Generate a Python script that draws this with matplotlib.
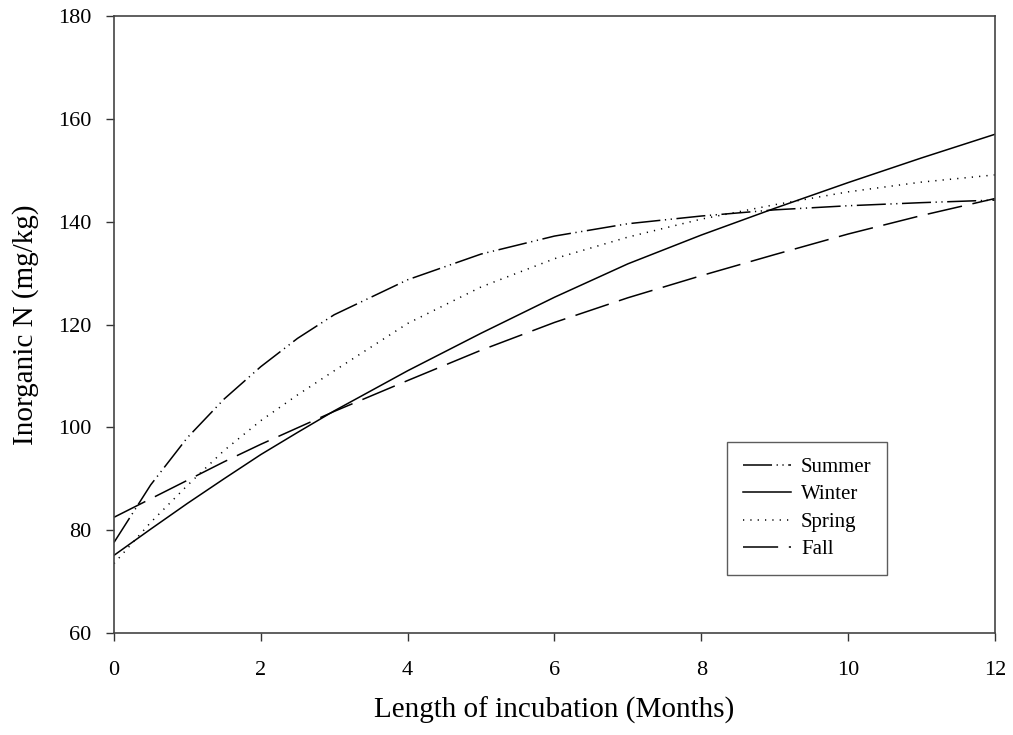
import numpy as np
import matplotlib
matplotlib.use('Agg')
import matplotlib.pyplot as plt

plt.rcParams['font.family'] = ['Liberation Serif', 'DejaVu Serif']

# months of incubation
months = [0, 0.5, 1, 1.5, 2, 2.5, 3, 4, 5, 6, 7, 8, 9, 10, 11, 12]

summer = [77.6, 88.8, 98.0, 105.5, 111.8, 117.3, 121.9, 128.7, 133.7, 137.2, 139.6, 141.1, 142.3, 143.1, 143.7, 144.2]
winter = [75.1, 80.2, 85.2, 90.0, 94.7, 99.0, 103.2, 111.0, 118.3, 125.3, 131.8, 137.4, 142.6, 147.6, 152.4, 157.0]
spring = [73.5, 81.5, 88.7, 95.5, 101.3, 106.3, 111.0, 120.2, 127.3, 132.8, 137.0, 140.5, 143.3, 145.8, 147.7, 149.1]
fall = [82.5, 86.1, 89.7, 93.3, 96.7, 99.9, 103.1, 109.1, 115.0, 120.4, 125.2, 129.5, 133.6, 137.6, 141.2, 144.5]

xticks = [0, 2, 4, 6, 8, 10, 12]
yticks = [60, 80, 100, 120, 140, 160, 180]

fig = plt.figure(figsize=(10.13, 7.35), dpi=100)
ax = fig.add_axes([0.1125, 0.1388, 0.8697, 0.8394])

lw = 1.1
ax.plot(months, summer, color='black', lw=lw, linestyle=(0, (19, 3, 0.8, 3, 0.8, 3)), label='Summer')
ax.plot(months, winter, color='black', lw=lw, linestyle='-', label='Winter')
ax.plot(months, spring, color='black', lw=lw, linestyle=(0, (0.8, 4)), label='Spring')
ax.plot(months, fall, color='black', lw=lw, linestyle=(0, (23, 7)), label='Fall')

ax.set_xlim(0, 12)
ax.set_ylim(60, 180)
ax.set_xticks(xticks)
ax.set_yticks(yticks)
ax.tick_params(direction='out', length=6, width=1, labelsize=16, color='#333333')
ax.tick_params(axis='x', pad=14)
ax.tick_params(axis='y', pad=10)
for s in ax.spines.values():
    s.set_linewidth(1.2)
    s.set_color('#444444')

ax.set_xlabel('Length of incubation (Months)', fontsize=21, labelpad=12)
ax.set_ylabel('Inorganic N (mg/kg)', fontsize=21, labelpad=14)

leg = ax.legend(loc='upper left', bbox_to_anchor=(0.696, 0.31), fontsize=15,
                frameon=True, fancybox=False, shadow=False, handlelength=2.3,
                handletextpad=0.5, labelspacing=0.38, borderpad=0.75, borderaxespad=0)
leg.get_frame().set_edgecolor('#333333')
leg.get_frame().set_linewidth(1.0)

fig.savefig('out.png', dpi=100)
